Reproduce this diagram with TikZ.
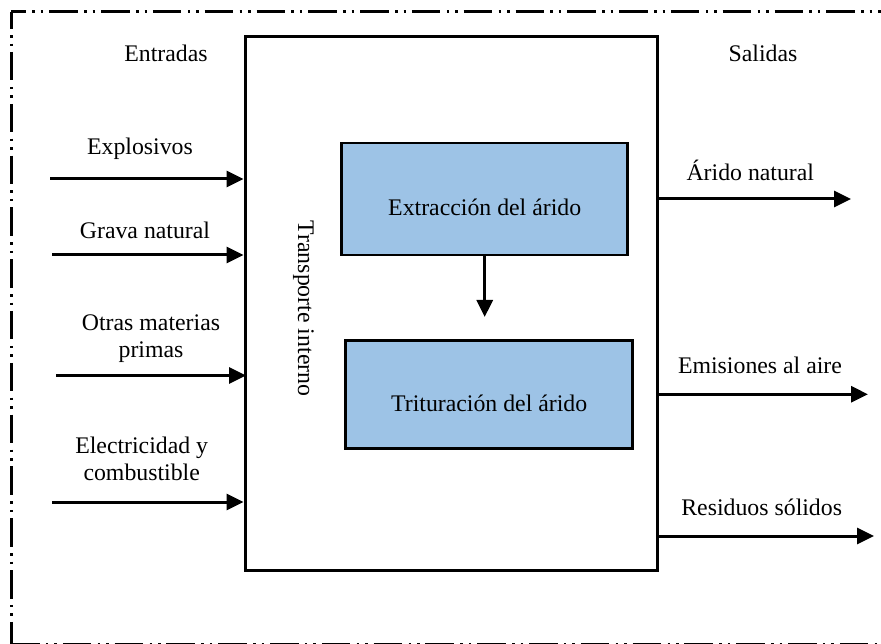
\documentclass[tikz,border=0pt]{standalone}
\usepackage{fontspec}
\setmainfont{Liberation Serif}
\usetikzlibrary{arrows.meta}
\definecolor{stageblue}{RGB}{157,195,230}
\begin{document}
\begin{tikzpicture}[x=1pt,y=-1pt,
  txt/.style={font=\fontsize{23.8}{27.5}\selectfont, inner sep=0pt, anchor=base, align=center},
  frameline/.style={line width=3pt, dash pattern=on 28.5pt off 6.4pt on 2.5pt off 6pt on 2.5pt off 5.9pt},
  outerbox/.style={draw, line width=3pt, minimum width=412pt, minimum height=533pt, inner sep=0pt},
  stagebox/.style={draw, fill=stageblue, line width=2.6pt, inner sep=0pt,
    font=\fontsize{23.8}{27.5}\selectfont, text height=33pt, text depth=0pt},
  flow/.style={line width=3pt, -{Triangle[length=17pt,width=16pt]}}
]
\useasboundingbox (0,0) rectangle (881,644);
\clip (0,0) rectangle (881,644);

% dash-dotted frame
\draw[frameline, dash phase=13.5pt] (11,12) -- (895,12);
\draw[frameline, dash phase=11.8pt] (11,12) -- (11,660);
\draw[frameline] (11,644.6) -- (895,644.6);

% process box and its stages
\node[outerbox] (proc) at (451,303.5) {};
\node[stagebox, minimum width=286pt, minimum height=112pt] (ext) at (484.7,199) {Extracción del árido};
\node[stagebox, minimum width=287pt, minimum height=108pt] (trit) at (489.2,394.5) {Trituración del árido};
\node[txt, rotate=-90] (transp) at (298,308.5) {Transporte interno};

\coordinate (extdown) at (484.7,317);
\draw[flow] (ext.south) -- (extdown);

% headings
\node[txt] (entradas) at (166,61.7) {Entradas};
\node[txt] (salidas) at (763,61.7) {Salidas};

% inputs (two-line labels are anchored on their last line)
\node[txt] (lexp) at (140,155) {Explosivos};
\node[txt] (lgrav) at (145,238.3) {Grava natural};
\node[txt] (lotras) at (151,358) {Otras materias\\primas};
\node[txt] (lelec) at (141.7,480.5) {Electricidad y\\combustible};

\coordinate (in1) at (50,179);
\coordinate (in2) at (52,255);
\coordinate (in3) at (56,375.5);
\coordinate (in4) at (52,502);
\draw[flow] (in1) -- (in1 -| proc.west);
\draw[flow] (in2) -- (in2 -| proc.west);
\draw[flow] (in3) -- ([xshift=2.5pt]in3 -| proc.west);
\draw[flow] (in4) -- (in4 -| proc.west);

% outputs
\node[txt] (larido) at (750.3,180.7) {Árido natural};
\node[txt] (lemis) at (760,373.3) {Emisiones al aire};
\node[txt] (lresid) at (761.7,515) {Residuos sólidos};

\coordinate (out1) at (851,199);
\coordinate (out2) at (868,394.3);
\coordinate (out3) at (874,536);
\draw[flow] (out1 -| proc.east) -- (out1);
\draw[flow] (out2 -| proc.east) -- (out2);
\draw[flow] (out3 -| proc.east) -- (out3);
\end{tikzpicture}
\end{document}
